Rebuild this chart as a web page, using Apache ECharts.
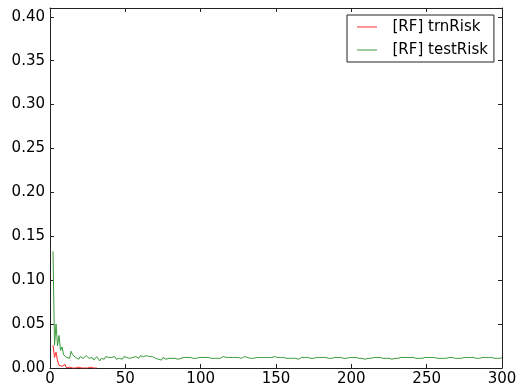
<!DOCTYPE html>
<html><head><meta charset="utf-8">
<script src="https://cdn.jsdelivr.net/npm/echarts@6/dist/echarts.min.js"></script>
<style>html,body{margin:0;padding:0;background:#fff}#c{width:520px;height:392px}</style>
</head><body><div id="c"></div>
<script>
const seriesNames = ['[RF] trnRisk', '[RF] testRisk'];
const xTicks = [0, 50, 100, 150, 200, 250, 300];
const yTicks = [0.00, 0.05, 0.10, 0.15, 0.20, 0.25, 0.30, 0.35, 0.40];
const firstIter = 2;
// training risk, iterations 2..31 (stays at 0 afterwards)
const trnRisk = [0.026,0.012,0.018,0.008,0.003,0.005,0.002,0.001,0.004,0.000,
  0.002,0.001,0.003,0.000,0.001,0.000,0.000,0.001,0.000,0.000,
  0.000,0.000,0.000,0.000,0.002,0.001,0.002,0.000,0.000,0.000];
// test risk, iterations 2..300
const testRisk = [
0.133,0.026,0.050,0.025,0.037,0.020,0.024,0.015,0.016,0.012,0.013,0.011,0.019,0.015,0.017,0.012,0.014,0.010,0.013,0.012,
0.011,0.010,0.014,0.012,0.011,0.013,0.012,0.009,0.011,0.013,0.012,0.008,0.011,0.012,0.010,0.013,0.011,0.012,0.010,0.012,
0.011,0.013,0.010,0.012,0.011,0.012,0.010,0.013,0.011,0.012,0.012,0.011,0.013,0.012,0.011,0.013,0.012,0.011,0.014,0.012,
0.013,0.012,0.014,0.012,0.013,0.011,0.013,0.012,0.011,0.012,0.010,0.011,0.009,0.012,0.011,0.010,0.012,0.011,0.012,0.011,
0.012,0.011,0.012,0.010,0.012,0.011,0.013,0.012,0.011,0.012,0.011,0.012,0.010,0.011,0.012,0.011,0.012,0.012,0.011,0.012,
0.011,0.012,0.011,0.012,0.012,0.011,0.012,0.011,0.012,0.011,0.012,0.011,0.012,0.013,0.012,0.012,0.014,0.012,0.011,0.012,
0.011,0.012,0.011,0.012,0.012,0.011,0.012,0.013,0.011,0.012,0.012,0.011,0.012,0.011,0.012,0.012,0.013,0.012,0.014,0.012,
0.011,0.012,0.011,0.012,0.011,0.012,0.012,0.013,0.014,0.012,0.011,0.012,0.011,0.012,0.010,0.011,0.012,0.011,0.012,0.011,
0.012,0.011,0.012,0.010,0.011,0.012,0.011,0.012,0.011,0.012,0.012,0.011,0.012,0.011,0.012,0.012,0.011,0.012,0.011,0.012,
0.011,0.012,0.012,0.011,0.012,0.011,0.012,0.012,0.011,0.012,0.011,0.012,0.012,0.011,0.012,0.011,0.012,0.012,0.011,0.012,
0.011,0.012,0.012,0.011,0.012,0.011,0.012,0.010,0.012,0.011,0.012,0.011,0.012,0.012,0.011,0.012,0.011,0.012,0.010,0.011,
0.012,0.011,0.013,0.011,0.012,0.010,0.012,0.011,0.012,0.011,0.012,0.012,0.011,0.012,0.011,0.012,0.011,0.012,0.011,0.012,
0.012,0.011,0.012,0.011,0.012,0.011,0.012,0.012,0.011,0.012,0.011,0.012,0.011,0.012,0.012,0.011,0.012,0.011,0.012,0.011,
0.012,0.011,0.012,0.012,0.011,0.012,0.013,0.011,0.012,0.011,0.012,0.011,0.012,0.012,0.011,0.012,0.011,0.012,0.011,0.012,
0.012,0.011,0.012,0.011,0.012,0.012,0.011,0.012,0.011,0.012,0.011,0.012,0.012,0.011,0.012,0.011,0.012,0.011,0.012];

const toPairs = arr => arr.map((v, i) => [i + firstIter, v]);
const font = 'DejaVu Sans';
const red = '#ff2a2a', green = '#3a9a3a';
const axisCommon = () => ({
  axisLine: {show: true, onZero: false, lineStyle: {color: '#222', width: 1}},
  axisTick: {show: true, inside: true, length: 4, lineStyle: {color: '#222'}},
  splitLine: {show: false}
});
const lineIcon = 'path://M0,0 L20,0 L20,1 L0,1 Z';
const chart = echarts.init(document.getElementById('c'), null, {renderer: 'canvas'});
chart.setOption({
  animation: false,
  backgroundColor: '#fff',
  textStyle: {fontFamily: font},
  grid: {left: 50, right: 18, top: 8, bottom: 24, containLabel: false},
  legend: {
    data: [
      {name: seriesNames[0], icon: lineIcon, itemStyle: {color: red, borderWidth: 0}},
      {name: seriesNames[1], icon: lineIcon, itemStyle: {color: green, borderWidth: 0}}
    ],
    orient: 'vertical', left: 347, top: 15,
    padding: [3, 6, 3, 10], itemGap: 5, itemWidth: 21, itemHeight: 1,
    itemStyle: {borderWidth: 0},
    borderColor: '#222', borderWidth: 1, backgroundColor: '#fff',
    textStyle: {fontFamily: font, fontSize: 15, color: '#000', padding: [0, 0, 0, 10], lineHeight: 18}
  },
  xAxis: [
    Object.assign({type: 'value', min: xTicks[0], max: xTicks[xTicks.length-1], interval: 50, position: 'bottom',
      axisLabel: {fontFamily: font, fontSize: 15, color: '#000', margin: 4}}, axisCommon()),
    Object.assign({type: 'value', min: xTicks[0], max: xTicks[xTicks.length-1], interval: 50, position: 'top',
      axisLabel: {show: false}}, axisCommon())
  ],
  yAxis: [
    Object.assign({type: 'value', min: 0, max: 0.41, interval: 0.05, position: 'left',
      axisLabel: {fontFamily: font, fontSize: 15, color: '#000', margin: 5, showMaxLabel: false,
        formatter: v => yTicks.some(t => Math.abs(t - v) < 1e-9) ? v.toFixed(2) : ''}}, axisCommon()),
    Object.assign({type: 'value', min: 0, max: 0.41, interval: 0.05, position: 'right',
      axisLabel: {show: false}}, axisCommon())
  ],
  series: [
    {name: seriesNames[0], type: 'line', data: toPairs(trnRisk), showSymbol: false, symbol: 'none',
      color: red, lineStyle: {color: red, width: 1}, itemStyle: {color: red}, z: 1},
    {name: seriesNames[1], type: 'line', data: toPairs(testRisk), showSymbol: false, symbol: 'none',
      color: green, lineStyle: {color: green, width: 1}, itemStyle: {color: green}, z: 2}
  ]
});
</script></body></html>
